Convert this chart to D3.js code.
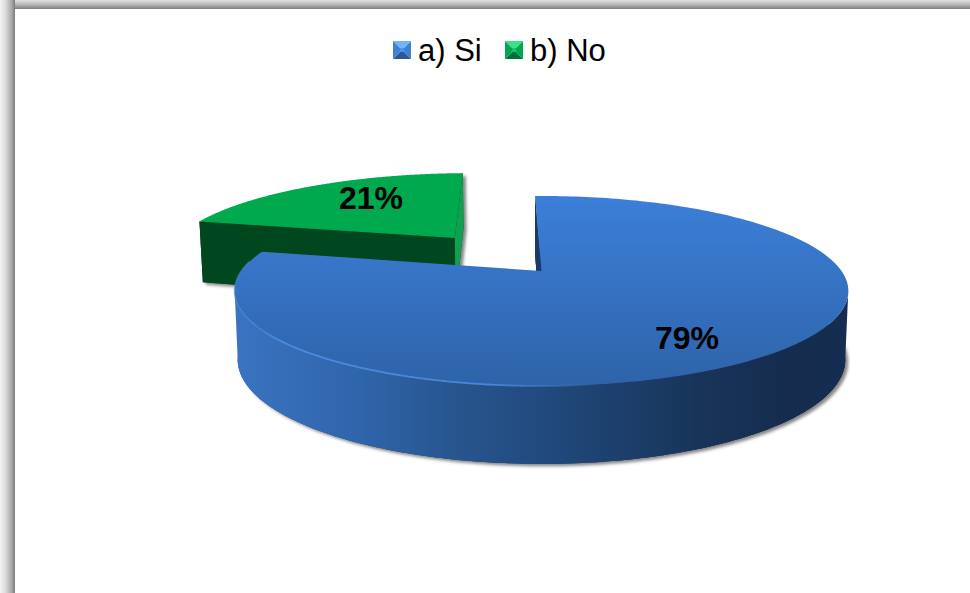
<!DOCTYPE html>
<html><head><meta charset="utf-8">
<script src="https://cdn.jsdelivr.net/npm/d3@7"></script>
<style>html,body{margin:0;padding:0;background:#fff;overflow:hidden}svg{display:block}text{font-family:"Liberation Sans",Arial,sans-serif}</style>
</head><body><svg id="c" width="970" height="593"></svg>
<script>
const categories = ["a) Si", "b) No"];
const values = [79, 21];
const labels = ["79%", "21%"];

const svg = d3.select("#c");
const defs = svg.append("defs");
function grad(id, x1, y1, x2, y2, stops){
  const g = defs.append("linearGradient").attr("id", id).attr("gradientUnits","userSpaceOnUse")
    .attr("x1",x1).attr("y1",y1).attr("x2",x2).attr("y2",y2);
  stops.forEach(s => g.append("stop").attr("offset",s[0]).attr("stop-color",s[1]).attr("stop-opacity", s[2] === undefined ? 1 : s[2]));
}
grad("fL",0,0,15,0,[[0,"#f4f4f4"],[.4,"#d8d8d8"],[.8,"#a4a4a4"],[1,"#7c7c7c"]]);
grad("fT",0,0,0,9,[[0,"#e0e0e0"],[.5,"#b8b8b8"],[1,"#7c7c7c"]]);
grad("blueTop",0,196,0,386,[[0,"#3C7FD9"],[1,"#2E63A8"]]);
grad("blueSide",237,0,848,0,[[0,"#3A73C0"],[.2,"#2F65AB"],[.35,"#28568F"],[.55,"#1F4677"],[.75,"#183559"],[.9,"#152C4E"],[1,"#152D50"]]);
grad("rim",237,0,600,0,[[0,"#3f7fd0",.6],[.12,"#4A8BE0",1],[.7,"#4A8BE0",.9],[1,"#4A8BE0",0]]);
const f = defs.append("filter").attr("id","sh").attr("x","-10%").attr("y","-10%").attr("width","120%").attr("height","125%");
f.append("feDropShadow").attr("dx",3).attr("dy",2.5).attr("stdDeviation",1.8).attr("flood-color","#555").attr("flood-opacity",.7);

// frame
svg.append("rect").attr("width",970).attr("height",9).attr("fill","url(#fT)");
svg.append("rect").attr("width",15).attr("height",593).attr("fill","url(#fL)");

// perspective projection of the disc
const x0 = 541.5, y0 = 271, B = 300, A = 90.8, k = 0.21, D = 66.4, kz = 0.148;
function proj(X, Y, bottom){
  const d = 1 + k * Y;
  let x = x0 + B * X / d, y = y0 - A * Y / d;
  if (bottom){ x = x0 + (x - x0) * 0.99; y += D / (1 + kz * Y); }
  return [x, y];
}
const pie = d3.pie().sort(null).value(d => d).startAngle(-1.5 * Math.PI / 180).endAngle((360 - 1.5) * Math.PI / 180);
const arcs = pie(values);
const explode = [[0, 0], [-0.313, 0.393]];
function edge(i, a0, a1, bottom){
  const [ex, ey] = explode[i], n = 240;
  return d3.range(n + 1).map(j => {
    const a = a0 + (a1 - a0) * j / n;
    return proj(ex + Math.sin(a), ey + Math.cos(a), bottom);
  });
}
const apex = (i, b) => proj(explode[i][0], explode[i][1], b);
const line = d3.line();
const poly = pts => line(pts) + "Z";

// green slice
{
  const s = arcs[1], g = svg.append("g");
  const top = edge(1, s.startAngle, s.endAngle, false);
  const bot = edge(1, s.startAngle, s.endAngle, true);
  const shadow = g.append("g").attr("filter","url(#sh)");
  shadow.append("path").attr("d", poly([top[0], bot[0], apex(1,true), bot[bot.length-1], top[top.length-1]])).attr("fill","#00461F");
  g.append("path").attr("d", poly([top[0], bot[0], apex(1,true), apex(1,false)])).attr("fill","#00461F");
  g.append("path").attr("d", poly([apex(1,false), apex(1,true), bot[bot.length-1], top[top.length-1]])).attr("fill","#119F50");
  g.append("path").attr("d", poly([apex(1,false), ...top])).attr("fill","#00A84E");
}
// blue slice
{
  const s = arcs[0], g = svg.append("g");
  const top = edge(0, s.startAngle, s.endAngle, false);
  const bot = edge(0, s.startAngle, s.endAngle, true);
  const iR = d3.greatestIndex(top, p => p[0]), iL = d3.leastIndex(top, p => p[0]);
  const frontTop = top.slice(iR, iL + 1), frontBot = bot.slice(iR, iL + 1);
  const wall = poly([top[0], bot[0], apex(0,true), apex(0,false)]);
  const sh = g.append("g").attr("filter","url(#sh)");
  sh.append("path").attr("d", poly([apex(0,true), ...bot])).attr("fill","#1A3A68");
  sh.append("path").attr("d", wall).attr("fill","#1A3A68");
  g.append("path").attr("d", wall).attr("fill","#1A3A68");
  g.append("path").attr("d", poly([...frontTop, ...frontBot.slice().reverse()])).attr("fill","url(#blueSide)");
  g.append("path").attr("d", poly([apex(0,true), ...bot.slice(iR, iL + 1)])).attr("fill","url(#blueSide)");
  g.append("path").attr("d", poly([apex(0,false), ...top])).attr("fill","url(#blueTop)");
  // bright rim along the front edge
  const rim = edge(0, 165 * Math.PI / 180, 276 * Math.PI / 180, false);
  g.append("path").attr("d", line(rim)).attr("fill","none").attr("stroke","url(#rim)").attr("stroke-width",1.8);
}
// data labels
const labelPos = [[687, 338], [371, 198]];
svg.selectAll("text.dl").data(labels).join("text").attr("class","dl")
  .attr("x",(d,i)=>labelPos[i][0]).attr("y",(d,i)=>labelPos[i][1])
  .attr("text-anchor","middle").attr("dominant-baseline","central")
  .attr("font-weight","bold").attr("font-size",32).attr("fill","#000").text(d=>d);

// legend
const legendX = [393, 505], legendTextX = [418, 530];
const markColors = [["#6FB6F7","#3F80D2","#2A5796","#4E93E4"],["#3DE08A","#00A84E","#00703A","#14C468"]];
categories.forEach((c,i)=>{
  const x = legendX[i], y = 41, s = 18, m = 7;
  const o=[[x,y],[x+s,y],[x+s,y+s],[x,y+s]], n=[[x+m,y+m],[x+s-m,y+m],[x+s-m,y+s-m],[x+m,y+s-m]];
  const col = markColors[i];
  [[0,1,col[0]],[1,2,col[1]],[2,3,col[2]],[3,0,col[1]]].forEach(([a,b,fc])=>{
    svg.append("path").attr("d",poly([o[a],o[b],n[b],n[a]])).attr("fill",fc);
  });
  svg.append("path").attr("d",poly(n)).attr("fill",col[3]);
  svg.append("text").attr("x",legendTextX[i]).attr("y",61).attr("font-size",31).attr("fill","#000").text(c);
});
</script></body></html>
